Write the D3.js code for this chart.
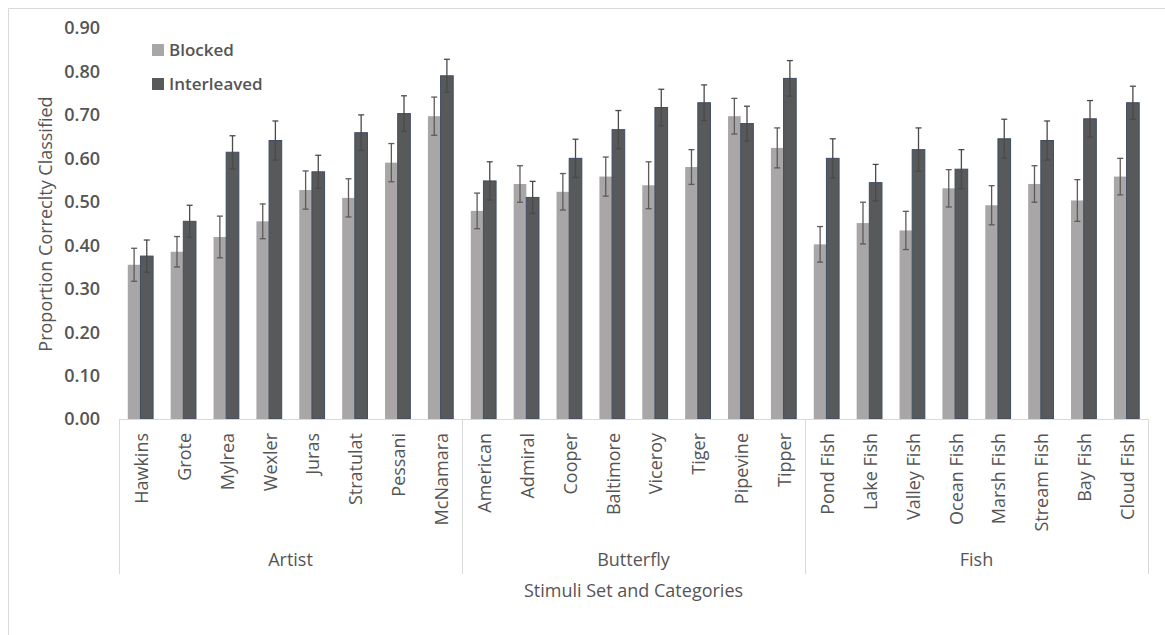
<!DOCTYPE html>
<html lang="en">
<head>
  <meta charset="UTF-8">
  <title>Proportion Correctly Classified</title>
  <style>
    body { margin: 0; background: #fff; }
    svg text { font-family: "Open Sans", Lato, sans-serif; fill: #555555; }
  </style>
</head>
<body>
  <svg id="chart" width="1165" height="635"></svg>

  <script src="https://d3js.org/d3.v7.min.js"></script>
  <script>
    // values
    const groups = ["Artist", "Butterfly", "Fish"];
    const categories = [
      "Hawkins", "Grote", "Mylrea", "Wexler", "Juras", "Stratulat", "Pessani", "McNamara",
      "American", "Admiral", "Cooper", "Baltimore", "Viceroy", "Tiger", "Pipevine", "Tipper",
      "Pond Fish", "Lake Fish", "Valley Fish", "Ocean Fish", "Marsh Fish", "Stream Fish", "Bay Fish", "Cloud Fish"
    ];
    const blocked = [
      0.355, 0.385, 0.419, 0.455, 0.527, 0.509, 0.590, 0.697,
      0.479, 0.541, 0.523, 0.558, 0.538, 0.580, 0.697, 0.624,
      0.402, 0.451, 0.434, 0.531, 0.492, 0.541, 0.503, 0.558
    ];
    const blockedErr = [
      0.038, 0.035, 0.048, 0.040, 0.044, 0.044, 0.044, 0.044,
      0.041, 0.042, 0.042, 0.045, 0.054, 0.040, 0.041, 0.046,
      0.041, 0.048, 0.044, 0.043, 0.045, 0.042, 0.048, 0.042
    ];
    const interleaved = [
      0.375, 0.455, 0.614, 0.641, 0.569, 0.659, 0.703, 0.790,
      0.548, 0.510, 0.600, 0.666, 0.717, 0.728, 0.680, 0.784,
      0.600, 0.544, 0.620, 0.575, 0.645, 0.641, 0.691, 0.728
    ];
    const interleavedErr = [
      0.037, 0.037, 0.038, 0.045, 0.038, 0.041, 0.041, 0.038,
      0.044, 0.037, 0.044, 0.044, 0.042, 0.041, 0.040, 0.041,
      0.045, 0.042, 0.050, 0.045, 0.045, 0.045, 0.042, 0.038
    ];
    const yTicks = [0, 0.1, 0.2, 0.3, 0.4, 0.5, 0.6, 0.7, 0.8, 0.9];
    const seriesNames = ["Blocked", "Interleaved"];
    const perGroup = 8;

    const svg = d3.select("#chart");
    const plotLeft = 119, plotRight = 1148, plotTop = 28, plotBottom = 419;

    // chart frame: only the top and left edges show
    svg.append("path")
      .attr("d", "M8.5,635V8.5H1165")
      .attr("fill", "none").attr("stroke", "#d9d9d9");

    const y = d3.scaleLinear().domain([0, 0.9]).range([plotBottom, plotTop]);
    const x0 = d3.scaleBand().domain(categories).range([plotLeft, plotRight])
      .paddingInner(0.41).paddingOuter(0.205);
    const x1 = d3.scaleBand().domain(seriesNames).range([0, x0.bandwidth()]);
    const color = d3.scaleOrdinal().domain(seriesNames).range(["#a8a6a6", "#58595b"]);

    // y axis labels
    svg.append("g").selectAll("text")
      .data(yTicks)
      .join("text")
      .attr("x", 100)
      .attr("y", d => y(d))
      .attr("dy", "0.36em")
      .attr("text-anchor", "end")
      .style("font-size", "18px").style("font-weight", "600")
      .text(d => d3.format(".2f")(d));

    svg.append("text")
      .attr("transform", `translate(46,224) rotate(-90)`)
      .attr("dy", "0.36em")
      .attr("text-anchor", "middle")
      .style("font-size", "18px")
      .text("Proportion Correclty Classified");

    const rows = categories.map((c, i) => ({
      cat: c,
      vals: [
        { s: "Blocked", v: blocked[i], e: blockedErr[i] },
        { s: "Interleaved", v: interleaved[i], e: interleavedErr[i] }
      ]
    }));

    const cat = svg.append("g").selectAll("g")
      .data(rows)
      .join("g")
      .attr("transform", d => `translate(${x0(d.cat)},0)`);

    cat.selectAll("rect")
      .data(d => d.vals)
      .join("rect")
      .attr("x", d => x1(d.s))
      .attr("y", d => y(d.v))
      .attr("width", x1.bandwidth())
      .attr("height", d => plotBottom - y(d.v))
      .attr("fill", d => color(d.s))
      .attr("stroke", d => d.s === "Interleaved" ? "#3f4d63" : "none")
      .attr("stroke-width", 1);

    const errG = cat.selectAll("g.err")
      .data(d => d.vals)
      .join("g")
      .attr("class", "err")
      .attr("stroke", d => d.s === "Blocked" ? "#5e5a5a" : "#4a4a4a")
      .attr("stroke-width", 1.3);
    const cx = d => x1(d.s) + x1.bandwidth() / 2;
    errG.append("line")
      .attr("x1", cx).attr("x2", cx)
      .attr("y1", d => y(d.v - d.e)).attr("y2", d => y(d.v + d.e));
    errG.append("line")
      .attr("x1", d => cx(d) - 3).attr("x2", d => cx(d) + 3)
      .attr("y1", d => y(d.v + d.e)).attr("y2", d => y(d.v + d.e));
    errG.append("line")
      .attr("x1", d => cx(d) - 3).attr("x2", d => cx(d) + 3)
      .attr("y1", d => y(d.v - d.e)).attr("y2", d => y(d.v - d.e));

    // category axis
    svg.append("line")
      .attr("x1", plotLeft).attr("x2", plotRight).attr("y1", plotBottom + 0.5).attr("y2", plotBottom + 0.5)
      .attr("stroke", "#d9d9d9");
    const step = (plotRight - plotLeft) / categories.length;
    const dividers = d3.range(groups.length + 1).map(i => plotLeft + i * perGroup * step);
    svg.append("g").selectAll("line")
      .data(dividers)
      .join("line")
      .attr("x1", d => Math.round(d) + 0.5).attr("x2", d => Math.round(d) + 0.5)
      .attr("y1", plotBottom).attr("y2", 574)
      .attr("stroke", "#d9d9d9");

    svg.append("g").selectAll("text")
      .data(categories)
      .join("text")
      .attr("transform", d => `translate(${x0(d) + x0.bandwidth() / 2 + 1},433) rotate(-90)`)
      .attr("dy", "0.36em")
      .attr("text-anchor", "end")
      .style("font-size", "18px")
      .text(d => d);

    svg.append("g").selectAll("text")
      .data(groups)
      .join("text")
      .attr("x", (d, i) => (dividers[i] + dividers[i + 1]) / 2)
      .attr("y", 560)
      .attr("dy", "0.36em")
      .attr("text-anchor", "middle")
      .style("font-size", "18px")
      .text(d => d);

    svg.append("text")
      .attr("x", (plotLeft + plotRight) / 2)
      .attr("y", 591)
      .attr("dy", "0.36em")
      .attr("text-anchor", "middle")
      .style("font-size", "18px")
      .text("Stimuli Set and Categories");

    // legend
    const legend = svg.append("g").selectAll("g")
      .data(seriesNames)
      .join("g")
      .attr("transform", (d, i) => `translate(152,${44 + i * 34})`);
    legend.append("rect")
      .attr("width", 12).attr("height", 12)
      .attr("fill", d => color(d));
    legend.append("text")
      .attr("x", 17).attr("y", 6).attr("dy", "0.36em")
      .style("font-size", "17px").style("font-weight", "600")
      .text(d => d);
  </script>
</body>
</html>
